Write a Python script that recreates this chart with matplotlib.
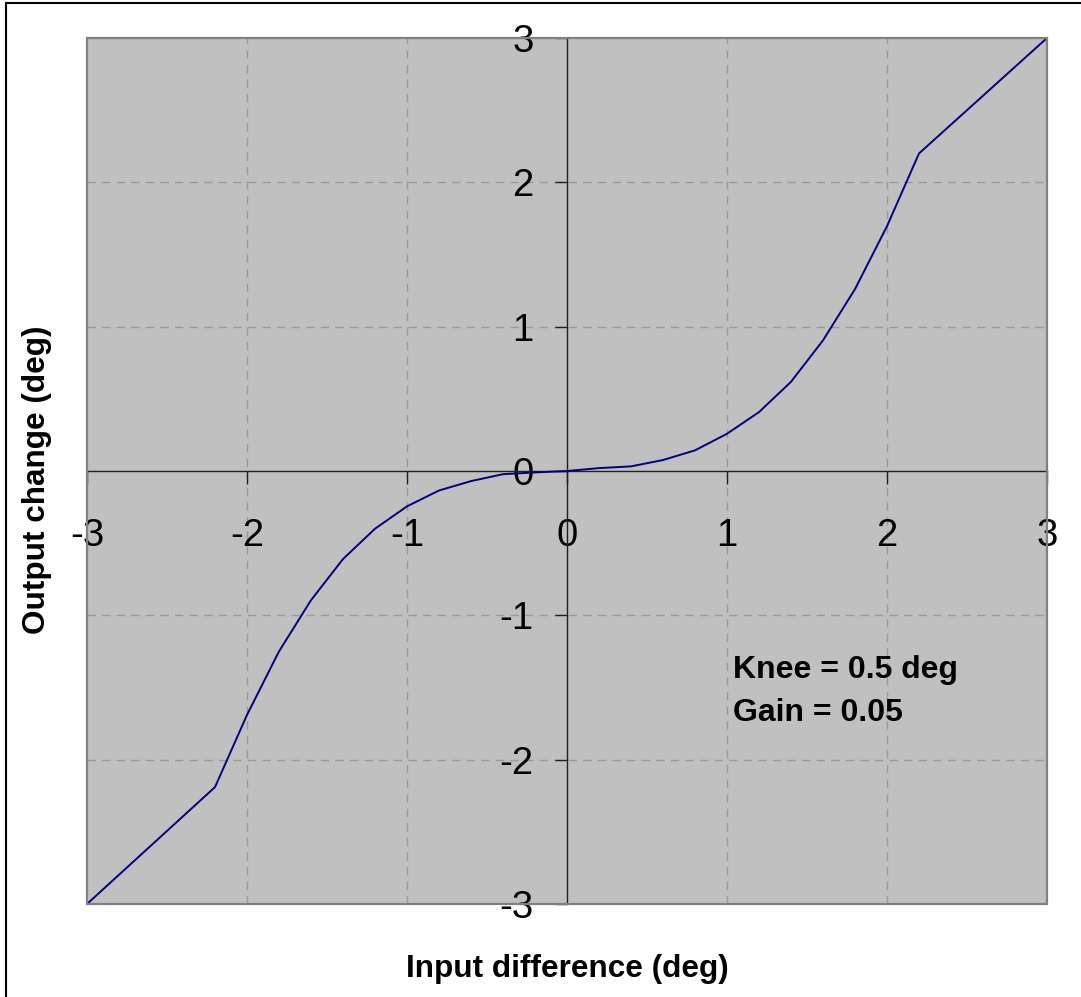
import matplotlib
matplotlib.use("Agg")
import matplotlib.pyplot as plt
from matplotlib.patches import Rectangle
from matplotlib.lines import Line2D

# transfer curve (input difference vs output change, deg)
input_diff = [-3.0, -2.2, -2.0, -1.8, -1.6, -1.4, -1.2, -1.0, -0.8, -0.6, -0.4, -0.2,
              0.0, 0.2, 0.4, 0.6, 0.8, 1.0, 1.2, 1.4, 1.6, 1.8, 2.0, 2.2, 3.0]
output_change = [-3.0, -2.19, -1.69, -1.25, -0.895, -0.61, -0.40, -0.245, -0.135, -0.07, -0.022, -0.01,
                 0.0, 0.02, 0.032, 0.076, 0.143, 0.258, 0.408, 0.618, 0.905, 1.26, 1.696, 2.2, 3.0]
ticks = [-3, -2, -1, 0, 1, 2, 3]
grid_vals = [-2, -1, 1, 2]
notes = ["Knee = 0.5 deg", "Gain = 0.05"]

plt.rcParams["font.family"] = ["Liberation Sans", "DejaVu Sans"]

W, H = 1081, 997
fig = plt.figure(figsize=(W / 100, H / 100), dpi=100)
ax = fig.add_axes([87 / W, 1 - 904 / H, (1047 - 87) / W, (904 - 38) / H])
ax.set_facecolor("#C0C0C0")

ax.set_xlim(-3, 3)
ax.set_ylim(-3, 3)

for v in grid_vals:
    ax.axvline(v, color="#9A9A9A", lw=1, ls=(0, (6, 4.5)), zorder=1)
    ax.axhline(v, color="#9A9A9A", lw=1, ls=(0, (6, 4.5)), zorder=1)

ax.plot(input_diff, output_change, color="#000080", lw=1.4, zorder=3)

# axes crossing at the origin
for side in ("top", "right"):
    ax.spines[side].set_visible(False)
ax.spines["left"].set_position(("data", 0))
ax.spines["bottom"].set_position(("data", 0))
for side in ("left", "bottom"):
    ax.spines[side].set_color("#202020")
    ax.spines[side].set_linewidth(1.0)
    ax.spines[side].set_zorder(2)

ax.add_patch(Rectangle((0, 0), 1, 1, transform=ax.transAxes, fill=False,
                       ec="#808080", lw=1.6, clip_on=False, zorder=4))

ax.set_xticks(ticks)
ax.set_yticks(ticks)
ax.set_xticklabels([str(t) for t in ticks])
ax.set_yticklabels([str(t) for t in ticks])
ax.tick_params(axis="x", direction="out", length=9, width=1, color="#202020",
               labelsize=27.5, pad=25)
ax.tick_params(axis="y", direction="out", length=9, width=1, color="#202020",
               labelsize=27.5, pad=15)

for i, txt in enumerate(notes):
    fig.text(733 / W, 1 - (678 + 43 * i) / H, txt, fontsize=23, fontweight="bold",
             ha="left", va="baseline")

fig.text(567 / W, 1 - 977 / H, "Input difference (deg)", fontsize=22.7,
         fontweight="bold", ha="center", va="baseline")
fig.text(37 / W, 1 - 480 / H, "Output change (deg)", fontsize=22.7,
         fontweight="bold", ha="center", va="center", rotation=90)

# outer frame of the picture
fig.add_artist(Line2D([5.5 / W, 5.5 / W], [0, 1 - 3 / H], transform=fig.transFigure,
                      color="black", lw=1.5))
fig.add_artist(Line2D([5.5 / W, 1], [1 - 3 / H, 1 - 3 / H], transform=fig.transFigure,
                      color="black", lw=1.5))

fig.savefig("out.png", dpi=100)
